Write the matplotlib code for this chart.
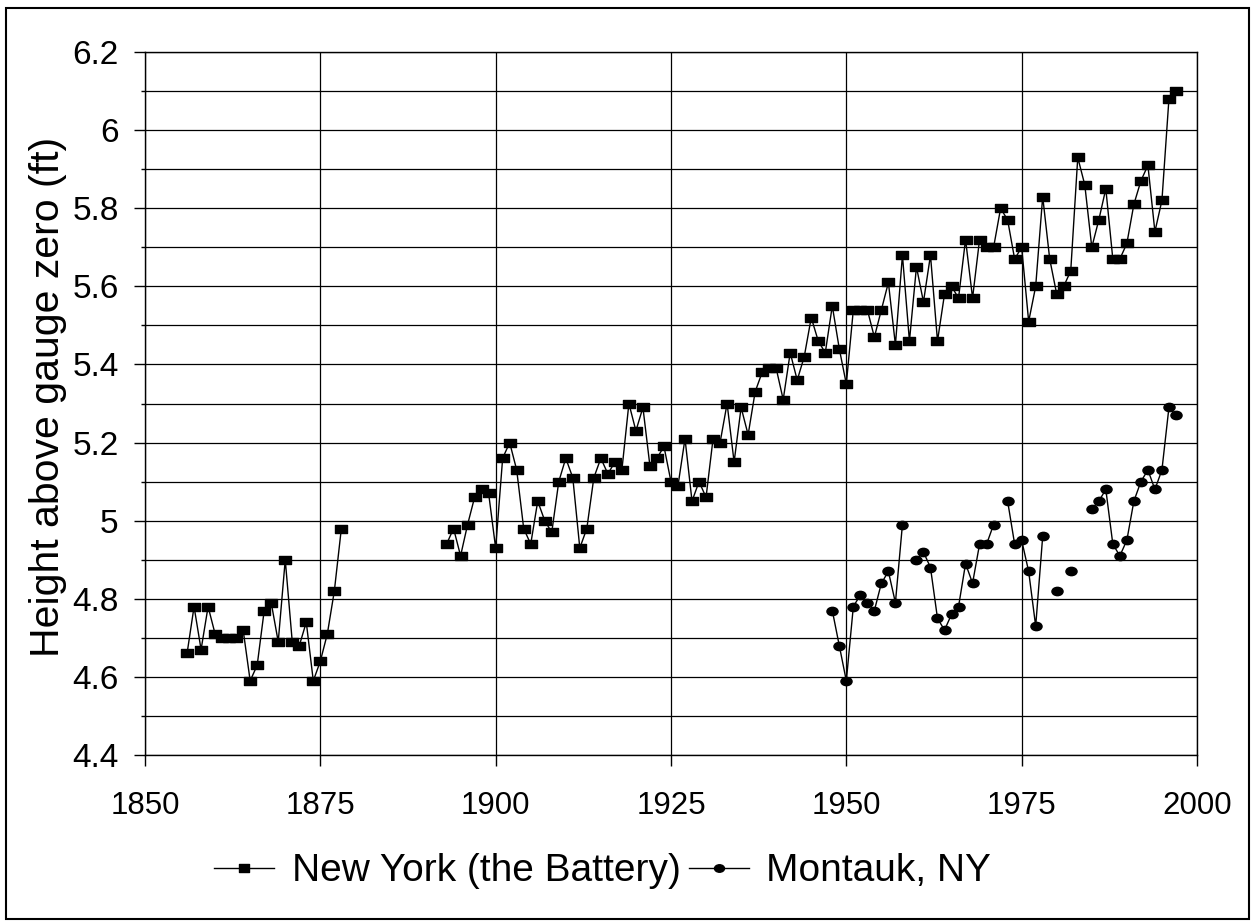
import numpy as np
import matplotlib
matplotlib.use("Agg")
import matplotlib.pyplot as plt
from matplotlib.patches import Rectangle
from matplotlib.path import Path
from matplotlib.ticker import MultipleLocator

nan = np.nan

# New York (the Battery): annual mean water level, 1856-1878 and 1893-1997
ny_years = list(range(1856, 1880)) + list(range(1893, 1998))
ny_level = [
    4.66, 4.78, 4.67, 4.78, 4.71, 4.70, 4.70, 4.70, 4.72, 4.59,   # 1856-1865
    4.63, 4.77, 4.79, 4.69, 4.90, 4.69, 4.68, 4.74, 4.59, 4.64,   # 1866-1875
    4.71, 4.82, 4.98, nan,                                        # 1876-1879
    4.94, 4.98, 4.91, 4.99, 5.06, 5.08, 5.07,                     # 1893-1899
    4.93, 5.16, 5.20, 5.13, 4.98, 4.94, 5.05, 5.00, 4.97, 5.10,   # 1900-1909
    5.16, 5.11, 4.93, 4.98, 5.11, 5.16, 5.12, 5.15, 5.13, 5.30,   # 1910-1919
    5.23, 5.29, 5.14, 5.16, 5.19, 5.10, 5.09, 5.21, 5.05, 5.10,   # 1920-1929
    5.06, 5.21, 5.20, 5.30, 5.15, 5.29, 5.22, 5.33, 5.38, 5.39,   # 1930-1939
    5.39, 5.31, 5.43, 5.36, 5.42, 5.52, 5.46, 5.43, 5.55, 5.44,   # 1940-1949
    5.35, 5.54, 5.54, 5.54, 5.47, 5.54, 5.61, 5.45, 5.68, 5.46,   # 1950-1959
    5.65, 5.56, 5.68, 5.46, 5.58, 5.60, 5.57, 5.72, 5.57, 5.72,   # 1960-1969
    5.70, 5.70, 5.80, 5.77, 5.67, 5.70, 5.51, 5.60, 5.83, 5.67,   # 1970-1979
    5.58, 5.60, 5.64, 5.93, 5.86, 5.70, 5.77, 5.85, 5.67, 5.67,   # 1980-1989
    5.71, 5.81, 5.87, 5.91, 5.74, 5.82, 6.08, 6.10,               # 1990-1997
]

# Montauk, NY: 1948-1997 (missing years left as gaps)
mt_years = list(range(1948, 1998))
mt_level = [
    4.77, 4.68,                                                   # 1948-1949
    4.59, 4.78, 4.81, 4.79, 4.77, 4.84, 4.87, 4.79, 4.99, nan,    # 1950-1959
    4.90, 4.92, 4.88, 4.75, 4.72, 4.76, 4.78, 4.89, 4.84, 4.94,   # 1960-1969
    4.94, 4.99, nan, 5.05, 4.94, 4.95, 4.87, 4.73, 4.96, nan,     # 1970-1979
    4.82, nan, 4.87, nan, nan, 5.03, 5.05, 5.08, 4.94, 4.91,      # 1980-1989
    4.95, 5.05, 5.10, 5.13, 5.08, 5.13, 5.29, 5.27,               # 1990-1997
]

x_ticks = [1850, 1875, 1900, 1925, 1950, 1975, 2000]

plt.rcParams["font.family"] = ["Liberation Sans", "DejaVu Sans"]

# slightly wide square and flattened dot, like the scanned markers
rect_marker = Path([(-1.15, -0.9), (1.15, -0.9), (1.15, 0.9), (-1.15, 0.9), (-1.15, -0.9)],
                   [Path.MOVETO, Path.LINETO, Path.LINETO, Path.LINETO, Path.CLOSEPOLY])
circ = Path.unit_circle()
oval_marker = Path(circ.vertices * np.array([1.2, 0.9]), circ.codes)

fig = plt.figure(figsize=(12.53, 9.21), dpi=100)
ax = fig.add_axes([0.1157, 0.1802, 0.8396, 0.7633])

ax.plot(ny_years, ny_level, color="black", linewidth=1.0, marker=rect_marker,
        markersize=8, markerfacecolor="black", markeredgecolor="black",
        label="New York (the Battery)")
ax.plot(mt_years, mt_level, color="black", linewidth=1.0, marker=oval_marker,
        markersize=8, markerfacecolor="black", markeredgecolor="black",
        label="Montauk, NY")

ax.set_xlim(1850, 2000)
ax.set_ylim(4.4, 6.2)
ax.set_xticks(x_ticks)
ax.yaxis.set_major_locator(MultipleLocator(0.2))
ax.yaxis.set_minor_locator(MultipleLocator(0.1))
ax.yaxis.set_major_formatter(lambda v, pos: f"{v:g}")

ax.grid(which="both", axis="y", color="black", linewidth=0.9)
ax.grid(which="major", axis="x", color="black", linewidth=0.9)
ax.set_axisbelow(True)
for spine in ax.spines.values():
    spine.set_color("black")
    spine.set_linewidth(1.0)

ax.tick_params(axis="x", which="major", direction="out", length=8, width=1,
               pad=18, labelsize=22.5)
ax.tick_params(axis="y", which="major", direction="out", length=8, width=1,
               pad=11, labelsize=24)
ax.tick_params(axis="y", which="minor", direction="out", length=3, width=1)

ax.set_ylabel("Height above gauge zero (ft)", fontsize=29.5)
ax.yaxis.set_label_coords(-0.074, 0.51)

leg = fig.legend(loc="center", bbox_to_anchor=(0.481, 0.054), ncol=2,
                 frameon=False, fontsize=28, handlelength=1.55,
                 handletextpad=0.45, columnspacing=0.2, markerscale=0.9)

# outer frame around the whole chart
fig.patches.append(Rectangle((0.005, 0.002), 0.992, 0.989,
                             transform=fig.transFigure, fill=False,
                             edgecolor="black", linewidth=1.5))

fig.savefig("out.png", dpi=100)
